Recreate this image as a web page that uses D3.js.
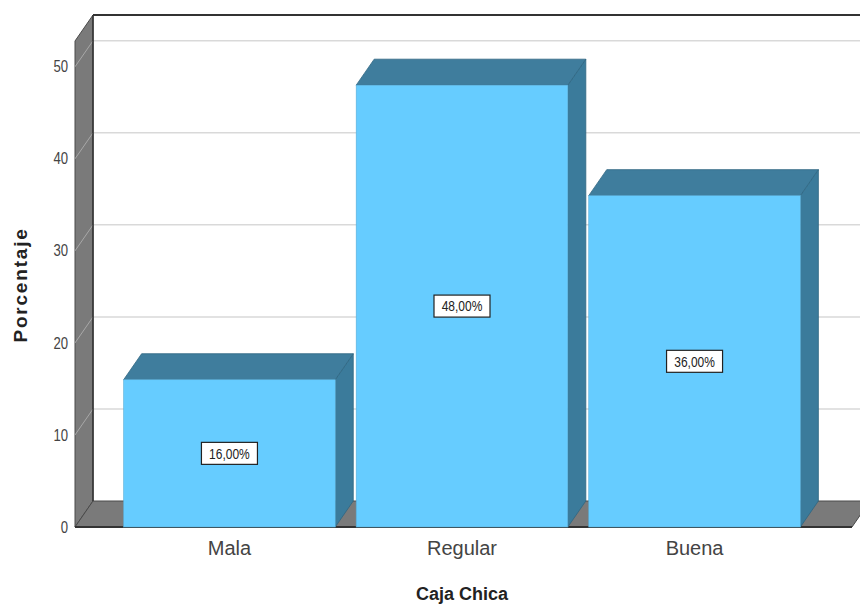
<!DOCTYPE html>
<html>
<head>
<meta charset="utf-8">
<script src="https://cdn.jsdelivr.net/npm/d3@7"></script>
<style>
  html, body { margin: 0; padding: 0; background: #fff; }
  svg { display: block; font-family: "Liberation Sans", Arial, sans-serif; }
</style>
</head>
<body>
<svg id="chart" width="860" height="605"></svg>
<script>
// Data
const categories = ["Mala", "Regular", "Buena"];
const percentages = [16, 48, 36];
const valueLabels = ["16,00%", "48,00%", "36,00%"];
const yTicks = [0, 10, 20, 30, 40, 50];
const yTitle = "Porcentaje";
const xTitle = "Caja Chica";

const svg = d3.select("#chart");

// Oblique depth offset of the 3D box
const dx = 18, dy = -26;

// Front-plane scales
const y = d3.scaleLinear().domain([0, 52.8]).range([527, 41]);
const x = d3.scaleBand().domain(categories).range([112, 812])
  .paddingInner(0.09).paddingOuter(0.05);

const wallX = 75;          // front edge of the left wall
const floorRight = 852;    // front right corner of the floor
const backRight = 862;     // back wall extends past the view

const y0 = y(0), yTop = y(52.8);

// Back wall
svg.append("rect")
  .attr("x", wallX + dx).attr("y", yTop + dy)
  .attr("width", backRight - wallX - dx).attr("height", y0 - yTop)
  .attr("fill", "#fff");

// Gridlines on back wall
svg.append("g").selectAll("line").data(yTicks.filter(d => d > 0)).join("line")
  .attr("x1", wallX + dx).attr("x2", backRight)
  .attr("y1", d => y(d) + dy).attr("y2", d => y(d) + dy)
  .attr("stroke", "#d9d9d9").attr("stroke-width", 1.5);

// Left wall
svg.append("polygon")
  .attr("points", [[wallX, yTop], [wallX + dx, yTop + dy], [wallX + dx, y0 + dy], [wallX, y0]].join(" "))
  .attr("fill", "#7a7a7a").attr("stroke", "#4a4a4a").attr("stroke-width", 1);

// Gridline slants across the left wall
svg.append("g").selectAll("line").data(yTicks.filter(d => d > 0)).join("line")
  .attr("x1", wallX).attr("x2", wallX + dx)
  .attr("y1", d => y(d)).attr("y2", d => y(d) + dy)
  .attr("stroke", "#a8a8a8").attr("stroke-width", 1);

// Floor
svg.append("polygon")
  .attr("points", [[wallX, y0], [wallX + dx, y0 + dy], [floorRight + dx, y0 + dy], [floorRight, y0]].join(" "))
  .attr("fill", "#7a7a7a").attr("stroke", "#4a4a4a").attr("stroke-width", 1);
svg.append("line")
  .attr("x1", wallX).attr("x2", floorRight).attr("y1", y0).attr("y2", y0)
  .attr("stroke", "#333").attr("stroke-width", 2);

// Inner corner of left wall
svg.append("line")
  .attr("x1", wallX + dx).attr("x2", wallX + dx).attr("y1", yTop + dy).attr("y2", y0 + dy)
  .attr("stroke", "#333").attr("stroke-width", 1.5);

// Top edge of back wall
svg.append("line")
  .attr("x1", wallX + dx).attr("x2", backRight).attr("y1", yTop + dy).attr("y2", yTop + dy)
  .attr("stroke", "#333").attr("stroke-width", 2);

// Bars
const bars = svg.append("g").selectAll("g").data(categories).join("g");
bars.each(function(c, i) {
  const g = d3.select(this);
  const x0 = x(c), x1 = x(c) + x.bandwidth();
  const yt = y(percentages[i]);
  // right side face
  g.append("polygon")
    .attr("points", [[x1, yt], [x1 + dx, yt + dy], [x1 + dx, y0 + dy], [x1, y0]].join(" "))
    .attr("fill", "#3b7b9b").attr("stroke", "#2f6682").attr("stroke-width", 0.8);
  // top face
  g.append("polygon")
    .attr("points", [[x0, yt], [x0 + dx, yt + dy], [x1 + dx, yt + dy], [x1, yt]].join(" "))
    .attr("fill", "#3f7d9d").attr("stroke", "#2f6682").attr("stroke-width", 0.8);
  // front face
  g.append("rect")
    .attr("x", x0).attr("y", yt).attr("width", x1 - x0).attr("height", y0 - yt)
    .attr("fill", "#66ccff").attr("stroke", "#5aaed8").attr("stroke-width", 0.6);
});

// Value labels
const labels = svg.append("g").selectAll("g").data(categories).join("g")
  .attr("transform", (c, i) => `translate(${x(c) + x.bandwidth() / 2},${(y(percentages[i]) + y0) / 2})`);
labels.append("rect")
  .attr("x", -28).attr("y", -11).attr("width", 56).attr("height", 22)
  .attr("fill", "#fff").attr("stroke", "#222").attr("stroke-width", 1.2);
labels.append("text")
  .attr("text-anchor", "middle").attr("dy", "0.35em")
  .attr("transform", "scale(0.8,1)")
  .attr("font-size", 15).attr("fill", "#222")
  .text((c, i) => valueLabels[i]);

// Y axis tick labels
const yAxis = d3.axisLeft(y).tickValues(yTicks).tickSize(0).tickPadding(0).tickFormat(d3.format("d"));
const yg = svg.append("g").attr("transform", `translate(${wallX - 7},0)`).call(yAxis);
yg.select(".domain").remove();
yg.selectAll(".tick text")
  .attr("font-family", "'Liberation Sans', Arial, sans-serif")
  .attr("font-size", 16).attr("fill", "#444")
  .attr("x", 0)
  .attr("transform", "scale(0.82,1)");

// X category labels
svg.append("g").selectAll("text").data(categories).join("text")
  .attr("x", c => x(c) + x.bandwidth() / 2).attr("y", 555)
  .attr("text-anchor", "middle").attr("font-size", 20).attr("fill", "#444")
  .text(c => c);

// Axis titles
svg.append("text")
  .attr("x", 462).attr("y", 600)
  .attr("text-anchor", "middle").attr("font-size", 18).attr("font-weight", "bold").attr("fill", "#222")
  .text(xTitle);
svg.append("text")
  .attr("transform", "translate(27,285) rotate(-90)")
  .attr("text-anchor", "middle").attr("font-size", 19).attr("font-weight", "bold").attr("fill", "#222")
  .attr("letter-spacing", 1.8)
  .text(yTitle);
</script>
</body>
</html>
